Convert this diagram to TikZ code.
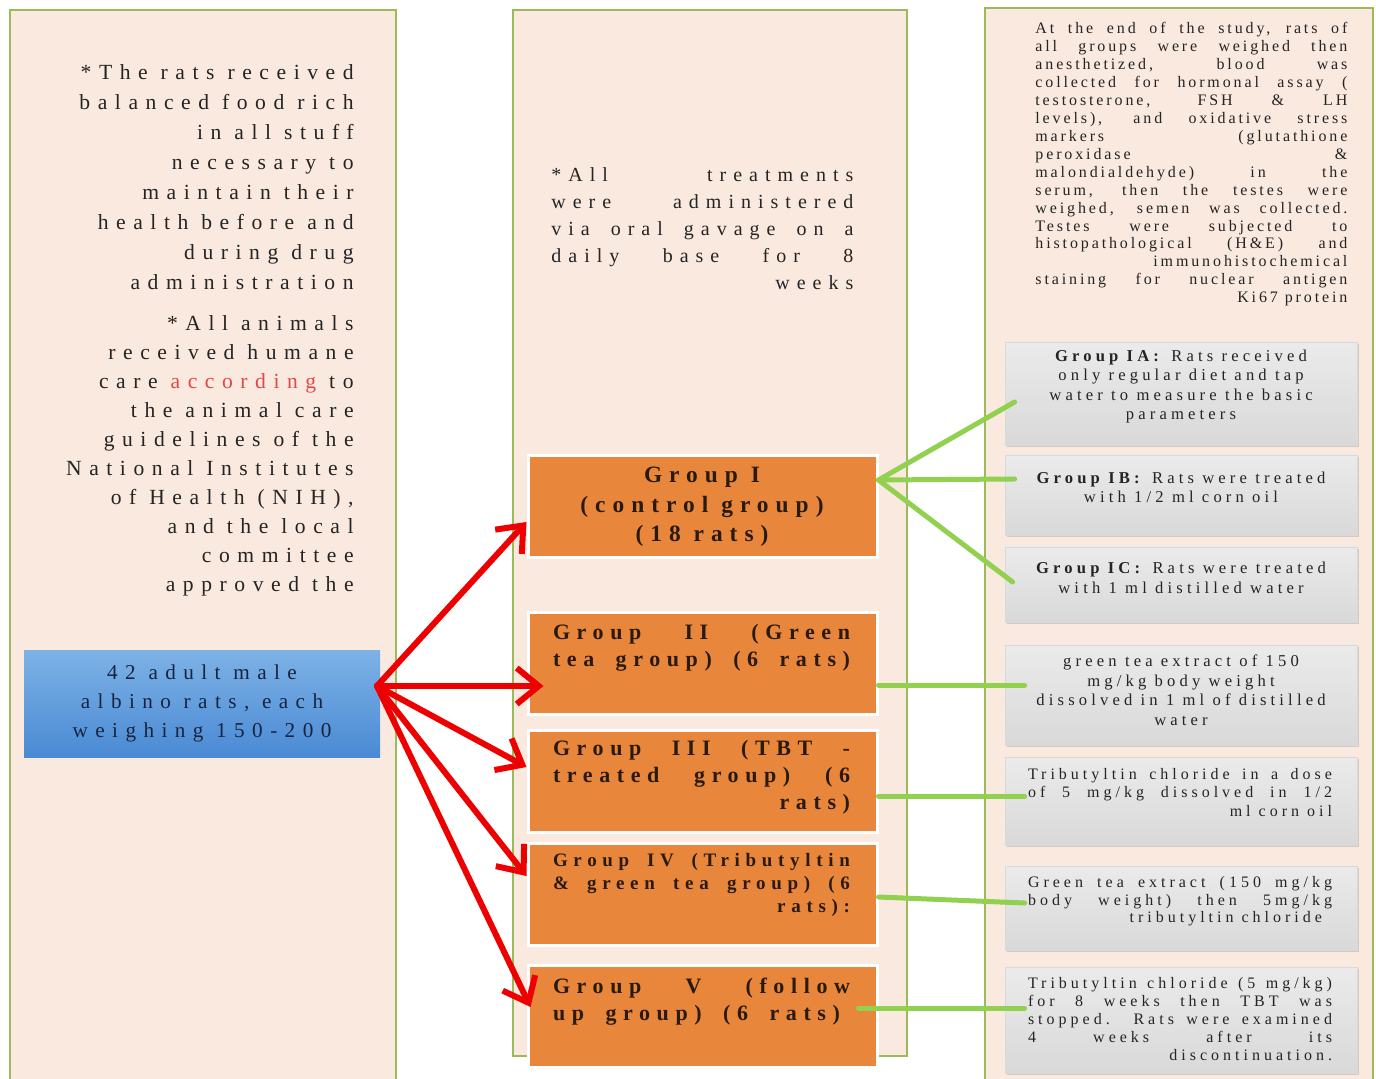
\documentclass[tikz,border=0pt]{standalone}
\usepackage{fontspec}
\setmainfont{Liberation Serif}
\newfontfamily\wider[LetterSpace=35]{Liberation Serif}
\newfontfamily\wide[LetterSpace=30]{Liberation Serif}
\newfontfamily\narrow[LetterSpace=25]{Liberation Serif}
\newfontfamily\tight[LetterSpace=18]{Liberation Serif}
\usetikzlibrary{arrows.meta,shadows}
\definecolor{panelfill}{HTML}{FAE9DE}
\definecolor{panelline}{HTML}{9BBB59}
\definecolor{grpfill}{HTML}{E8873B}
\definecolor{linkgreen}{HTML}{92D050}
\definecolor{arrowred}{HTML}{EE0000}
\definecolor{bluetop}{HTML}{7DB2E6}
\definecolor{bluebot}{HTML}{4A8AD4}
\definecolor{inkgray}{HTML}{242424}
\definecolor{inknavy}{HTML}{18243F}
\definecolor{inkbrown}{HTML}{2A1A0E}
\definecolor{notered}{HTML}{E04848}

\begin{document}
\begin{tikzpicture}[
    x=0.5pt, y=-0.5pt,
    panel/.style={draw=panelline,line width=0.9pt,fill=panelfill},
    sample/.style={rectangle,top color=bluetop,bottom color=bluebot,
        minimum width=178pt,minimum height=53.5pt,align=center,text=inknavy,
        font=\wider\fontsize{10.6}{14.5}\selectfont},
    group/.style={rectangle,draw=white,line width=1.5pt,fill=grpfill,
        minimum width=174.5pt,minimum height=51pt},
    grouptext/.style={inner sep=0pt,align=left,text=inkbrown,
        font=\wide\bfseries\fontsize{11}{13.5}\selectfont},
    detail/.style={rectangle,draw=gray!30,top color=gray!16,bottom color=gray!30,
        minimum width=176pt,drop shadow={opacity=0.3,shadow xshift=0.8pt,shadow yshift=-0.8pt}},
    detailtext/.style={inner sep=0pt,align=center,text=inkgray,
        font=\narrow\fontsize{8.3}{9.75}\selectfont},
    note/.style={inner sep=0pt,text=inkgray,font=\wider\fontsize{10.8}{14.5}\selectfont},
    split/.style={draw=arrowred,line width=3pt,line cap=round,-{Straight Barb[length=11pt,width=18pt]}},
    link/.style={draw=linkgreen,line width=2.5pt,line cap=round}
]
\useasboundingbox (0,0) rectangle (1376,1079);

\draw[panel] (10,10) rectangle (396,1090);
\draw[panel] (513,10) rectangle (907,1056);
\draw[panel] (985,8) rectangle (1373,1090);

\node[note,align=right,anchor=north east,font=\wider\fontsize{10.8}{15}\selectfont] (diet) at (354,64)
    {*The rats received\\balanced food rich\\in all stuff\\necessary to\\maintain their\\health before and\\during drug\\administration};
\node[note,align=right,anchor=north east] (ethics) at (354,315)
    {*All animals\\received humane\\care \textcolor{notered}{according} to\\the animal care\\guidelines of the\\National Institutes\\of Health (NIH),\\and the local\\committee\\approved the};
\node[sample] (rats) at (202,703.5) {42 adult male\\albino rats, each\\weighing 150-200};

\node[note,align=left,anchor=north west,font=\wider\fontsize{10}{13.5}\selectfont] (dosing) at (551,167)
    {\makebox[151pt][s]{*All treatments}\\\makebox[151pt][s]{were administered}\\
     \makebox[151pt][s]{via oral gavage on a}\\\makebox[151pt][s]{daily base for 8}\\\makebox[151pt][r]{weeks}};

\node[group] (g1) at (702.5,506.5) {};
\node[group] (g2) at (702.5,663.5) {};
\node[group] (g3) at (702.5,781) {};
\node[group] (g4) at (702.5,894.5) {};
\node[group] (g5) at (702.5,1016) {};

\node[grouptext,align=center,font=\wide\bfseries\fontsize{11.7}{14.75}\selectfont] (g1text) at (702,507)
    {Group I\\(control group)\\(18 rats)};
\node[grouptext] (g2text) at (701.5,647.5)
    {\makebox[148.5pt][s]{Group II (Green}\\\makebox[148.5pt][s]{tea group) (6 rats)}};
\node[grouptext] (g3text) at (701.5,777)
    {\makebox[148.5pt][s]{Group III (TBT -}\\\makebox[148.5pt][s]{treated group) (6}\\\makebox[148.5pt][r]{rats)}};
\node[grouptext,font=\wide\bfseries\fontsize{9.5}{11.5}\selectfont] (g4text) at (701.5,885)
    {\makebox[148.5pt][s]{Group IV (Tributyltin}\\\makebox[148.5pt][s]{\& green tea group) (6}\\\makebox[148.5pt][r]{rats):}};
\node[grouptext] (g5text) at (701.5,1001.5)
    {\makebox[148.5pt][s]{Group V (follow}\\\makebox[148.5pt][l]{\makebox[143.5pt][s]{up group) (6 rats)}}};

\node[note,align=left,anchor=north west,font=\tight\fontsize{8}{8.97}\selectfont] (endpoints) at (1035,22)
    {\makebox[156pt][s]{At the end of the study, rats of}\\
     \makebox[156pt][s]{all groups were weighed then}\\
     \makebox[156pt][s]{anesthetized, blood was}\\
     \makebox[156pt][s]{collected for hormonal assay (}\\
     \makebox[156pt][s]{testosterone, FSH \& LH}\\
     \makebox[156pt][s]{levels), and oxidative stress}\\
     \makebox[156pt][s]{markers (glutathione}\\
     \makebox[156pt][s]{peroxidase \&}\\
     \makebox[156pt][s]{malondialdehyde) in the}\\
     \makebox[156pt][s]{serum, then the testes were}\\
     \makebox[156pt][s]{weighed, semen was collected.}\\
     \makebox[156pt][s]{Testes were subjected to}\\
     \makebox[156pt][s]{histopathological (H\&E) and}\\
     \makebox[156pt][r]{immunohistochemical}\\
     \makebox[156pt][s]{staining for nuclear antigen}\\
     \makebox[156pt][r]{Ki67 protein}};

\node[detail,minimum height=51.5pt] (ia) at (1181,393.5) {};
\node[detail,minimum height=40pt] (ib) at (1181,495) {};
\node[detail,minimum height=37.5pt] (ic) at (1181,584.5) {};
\node[detail,minimum height=50pt] (gt) at (1181,695) {};
\node[detail,minimum height=44pt] (tbt) at (1181,801) {};
\node[detail,minimum height=42pt] (mix) at (1181,908) {};
\node[detail,minimum height=53pt] (fu) at (1181,1020) {};

\node[detailtext] (iatext) at (1181,386.5)
    {\textbf{Group IA:} Rats received\\only regular diet and tap\\water to measure the basic\\parameters};
\node[detailtext] (ibtext) at (1181,487.5) {\textbf{Group IB:} Rats were treated\\with 1/2 ml corn oil};
\node[detailtext] (ictext) at (1181,578) {\textbf{Group IC:} Rats were treated\\with 1 ml distilled water};
\node[detailtext] (gttext) at (1181,690)
    {green tea extract of 150\\mg/kg body weight\\dissolved in 1 ml of distilled\\water};
\node[detailtext,align=left,font=\narrow\fontsize{8}{9.25}\selectfont] (tbttext) at (1180,792.5)
    {\makebox[152pt][s]{Tributyltin chloride in a dose}\\\makebox[152pt][s]{of 5 mg/kg dissolved in 1/2}\\\makebox[152pt][r]{ml corn oil}};
\node[detailtext,align=left,font=\narrow\fontsize{8}{8.75}\selectfont] (mixtext) at (1180,901.5)
    {\makebox[152pt][s]{Green tea extract (150 mg/kg}\\\makebox[152pt][s]{body weight) then 5mg/kg}\\\makebox[152pt][r]{tributyltin chloride\hspace*{5pt}}};
\node[detailtext,align=left,font=\narrow\fontsize{8}{9}\selectfont] (futext) at (1180,1019)
    {\makebox[152pt][s]{Tributyltin chloride (5 mg/kg)}\\\makebox[152pt][s]{for 8 weeks then TBT was}\\
     \makebox[152pt][s]{stopped. Rats were examined}\\\makebox[152pt][s]{4 weeks after its}\\\makebox[152pt][r]{discontinuation.}};

\coordinate (fork) at (377,686);
\draw[split] (fork) -- ([yshift=-7.75pt]g1.west);
\draw[split] (fork) -- ([xshift=8.5pt,yshift=-11.25pt]g2.west);
\draw[split] (fork) -- ([yshift=7pt]g3.west);
\draw[split] (fork) -- ([yshift=9.25pt]g4.west);
\draw[split] (fork) -- ([xshift=2pt,yshift=4.5pt]g5.west);

\coordinate (g1fork) at ([yshift=13.25pt]g1.east);
\draw[link] (g1fork) -- ([xshift=5pt,yshift=-4.25pt]ia.west);
\draw[link] (g1fork) -- ([xshift=5pt,yshift=8pt]ib.west);
\draw[link] (g1fork) -- ([xshift=4pt,yshift=1.25pt]ic.west);
\draw[link] ([yshift=-10.75pt]g2.east) -- ([xshift=10pt,yshift=5pt]gt.west);
\draw[link] ([yshift=-7.5pt]g3.east) -- ([xshift=10pt,yshift=2.5pt]tbt.west);
\draw[link] ([yshift=-1.25pt]g4.east) -- ([xshift=10pt,yshift=2.5pt]mix.west);
\draw[link] ([xshift=-10pt,yshift=4pt]g5.east) -- ([xshift=10pt,yshift=6pt]fu.west);
\end{tikzpicture}
\end{document}
